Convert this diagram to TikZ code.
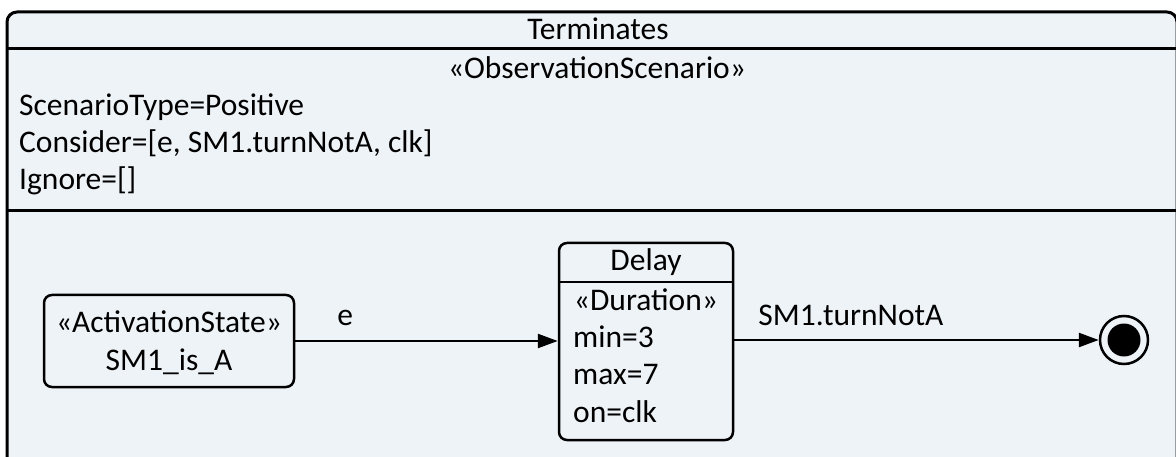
\documentclass[tikz,border=0pt]{standalone}
\usepackage{fontspec}
\setmainfont{Carlito}
\usetikzlibrary{arrows.meta}
\definecolor{bgblue}{RGB}{238,243,247}

\begin{document}
\begin{tikzpicture}[x=1pt, y=-1pt]
\tikzset{every node/.style={font=\fontsize{31.5}{37}\selectfont, inner sep=0pt},
  statebox/.style={draw, line width=2.5pt, rounded corners=8pt, fill=bgblue},
  trans/.style={line width=2.5pt, -{Triangle[length=20pt, width=14pt]}}}
\useasboundingbox (0,0) rectangle (1176,457);
% frame
\fill[bgblue, rounded corners=10pt] (7,480) -- (7,12) -- (1177,12) -- (1177,480);
\draw[line width=3pt, rounded corners=10pt] (7,480) -- (7,12) -- (1177,12) -- (1177,480);
\draw[line width=3pt] (7,49) -- (1177,49)
  (7,211) -- (1177,211);
\node [anchor=base] (title) at (598,40) {Terminates};
\node [anchor=base] (stereo) at (597,79) {«ObservationScenario»};
\node [anchor=base west] (type) at (19,116) {ScenarioType=Positive};
\node [anchor=base west] (consider) at (19,153) {Consider=[e, SM1.turnNotA, clk]};
\node [anchor=base west] (ignore) at (19,190) {Ignore=[]};
% states
\node [statebox, minimum width=250pt, minimum height=92pt] (act) at (169,341) {};
\node [anchor=base] (actst) at (169,332) {«ActivationState»};
\node [anchor=base] (actname) at (169,370) {SM1\_is\_A};
\node [statebox, minimum width=174pt, minimum height=197pt] (delay) at (646,341.5) {};
\draw [line width=2.5pt] (delay.west |- 0,282) -- (delay.east |- 0,282);
\node [anchor=base] (delname) at (646,271) {Delay};
\node [anchor=base] (delst) at (646,310) {«Duration»};
\node [anchor=base west] (delmin) at (573,347) {min=3};
\node [anchor=base west] (delmax) at (573,384) {max=7};
\node [anchor=base west] (delon) at (573,422) {on=clk};
\node [draw, circle, line width=2.5pt, minimum size=48pt, fill=bgblue] (fin) at (1124,340) {};
\node [circle, fill=black, minimum size=33pt] (findot) at (fin) {};
% transitions
\draw [trans] (act.east |- 0,341) -- (delay.west |- 0,341)
  node [pos=0.19, above=15pt, anchor=base] (lble) {e};
\draw [trans] (delay.east |- fin) -- (fin)
  node [pos=0.32, above=14pt, anchor=base] (lblturn) {SM1.turnNotA};
\end{tikzpicture}
\end{document}
